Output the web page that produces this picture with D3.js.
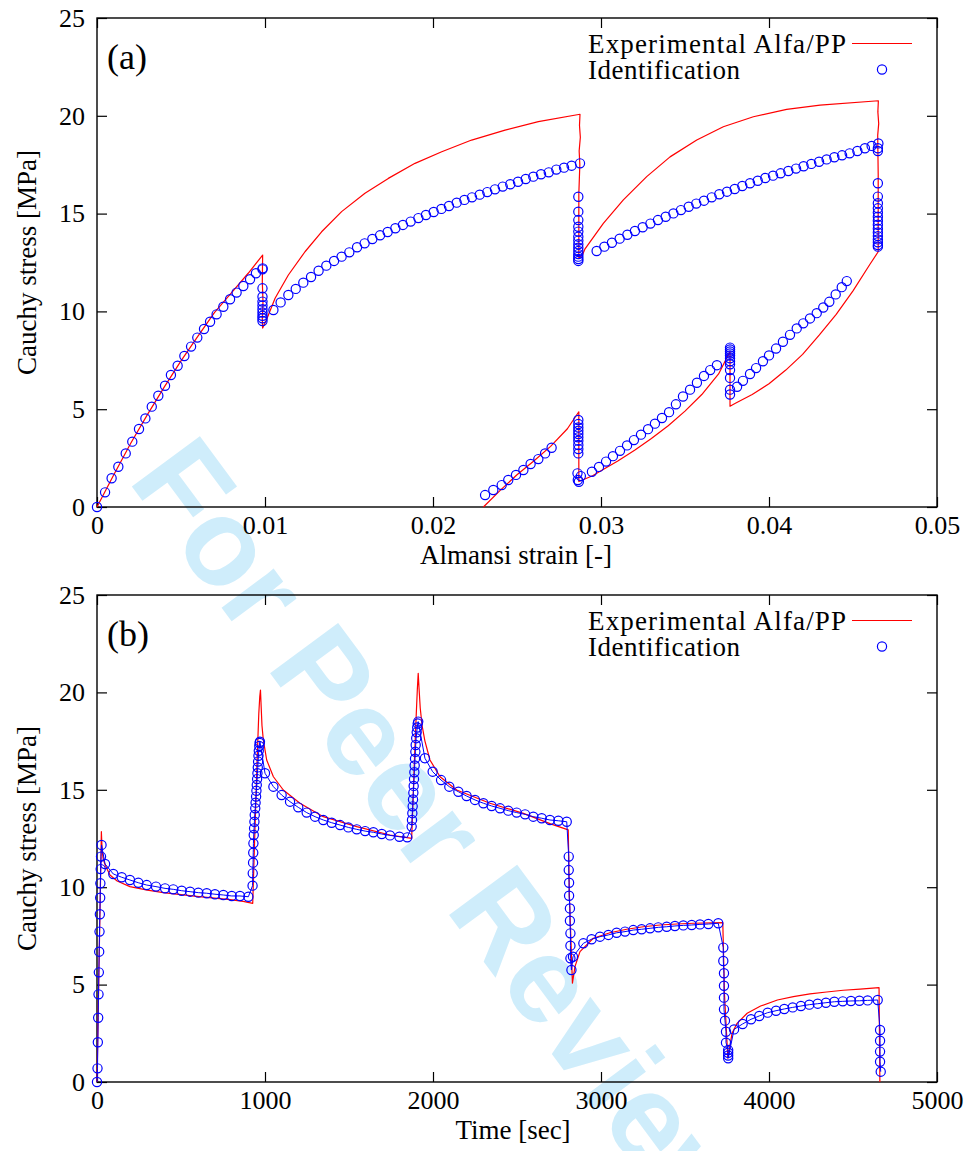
<!DOCTYPE html>
<html>
<head>
<meta charset="utf-8">
<script src="https://cdn.jsdelivr.net/npm/d3@7"></script>
<style>
  body { margin: 0; background: #fff; }
  .serif { font-family: "Liberation Serif", "DejaVu Serif", "Times New Roman", serif; }
</style>
</head>
<body>
<div id="chart"></div>
<script>
// ---- panel (a): stress vs Almansi strain ----
var strainExp = [0, .001, .002, .003, .004, .005, .006, .007, .008, .009, .00986,
  .00984, .00988, .00984, .00986,
  .0101, .0106, .01139, .01238, .01337, .01456, .01595, .01734, .01893, .02052, .0223, .02429, .02627, .02875,
  .02872, .02877, .0287, .02874, .02868, .02868,
  .0289, .02905, .03014, .03133, .03272, .03411, .0357, .03728, .03907, .04105, .04304, .04651,
  .04648, .04653, .04647, .0465, .0465,
  .046, .045, .044, .043, .042, .041, .040, .039, .038, .03768,
  .03768,
  .037, .036, .035, .034, .033, .032, .031, .030, .0295, .02868,
  .02868,
  .028, .027, .026, .025, .024, .023];
var stressExpA = [0, 1.65, 3.25, 4.72, 6.13, 7.47, 8.72, 9.95, 10.95, 11.95, 12.88,
  11.5, 10.5, 9.6, 9.15,
  9.6, 10.67, 11.86, 13.05, 14.07, 15.1, 16.04, 16.8, 17.57, 18.16, 18.76, 19.27, 19.7, 20.08,
  19.5, 18.9, 18.2, 17.5, 16.0, 12.7,
  12.9, 13.2, 14.5, 15.7, 16.89, 17.9, 18.76, 19.44, 19.95, 20.33, 20.55, 20.77,
  20.2, 19.6, 19.0, 17.0, 13.05,
  12.4, 11.05, 9.85, 8.8, 7.8, 7.0, 6.3, 5.75, 5.3, 5.15,
  7.95,
  6.8, 5.75, 4.9, 4.15, 3.5, 2.9, 2.35, 1.85, 1.6, 1.3,
  4.87,
  4.0, 3.1, 2.35, 1.65, 0.85, 0];

var strainIdA = [0, .00048, .00087, .00127, .00171, .0021, .0025, .00288, .00326, .00365, .00405, .0044, .0048,
  .0052, .0056, .00597, .00637, .00673, .00712, .00752, .00792, .00831, .00871, .00911, .00946, .00986,
  .00985, .00985, .00985, .00985, .00985, .00985, .00985, .00985, .00985, .00985,
  .0105, .01093, .01139, .01183, .01228, .01274, .01319, .01365, .01411, .01456, .01502, .01548, .01593, .01639,
  .01685, .0173, .01776, .01821, .01867, .01913, .01958, .02004, .0205, .02095, .02141, .02187, .02232, .02278,
  .02323, .02369, .02415, .0246, .02506, .02552, .02597, .02643, .02689, .02734, .0278, .02825, .02875,
  .02865, .02865, .02865, .02865, .02865, .02865, .02865, .02865, .02865, .02865, .02865, .02865, .02865, .02865,
  .02974, .0302, .03065, .03111, .03157, .03202, .03248, .03294, .03339, .03385, .03431, .03476, .03522, .03567,
  .03613, .03659, .03704, .0375, .03796, .03841, .03887, .03933, .03978, .04024, .04069, .04115, .04161, .04206,
  .04252, .04298, .04343, .04389, .04435, .0448, .04526, .04571, .04611, .04651,
  .04648, .04648, .04648, .04648, .04648, .04648, .04648, .04648, .04648, .04648, .04648, .04648, .04648, .04648,
  .04648, .04648, .04648,
  .04463, .04433, .04397, .04359, .04323, .04284, .04244, .04204, .04165, .04125, .04083, .04042, .04, .03964,
  .03923, .03887, .03845, .0381,
  .03768, .03768, .03768, .03768, .03768, .03768, .03768, .03768, .03768, .03768, .03768, .03768,
  .0369, .0365, .03613, .03571, .0353, .03488, .03446, .03405, .03363, .03321, .0328, .03238, .03196, .03155,
  .03113, .03071, .0303, .02988, .02946,
  .02868, .02862, .0288, .0286, .02865, .02865, .02865, .02865, .02865, .02865, .02865, .02865, .02865, .02865,
  .02706, .02667, .02627, .02581, .02538, .02494, .02448, .02409, .02359, .0231];
var stressIdA = [0, .75, 1.47, 2.06, 2.74, 3.34, 3.99, 4.53, 5.13, 5.69, 6.2, 6.75, 7.22,
  7.72, 8.2, 8.66, 9.1, 9.47, 9.85, 10.24, 10.62, 10.96, 11.3, 11.64, 11.95, 12.2,
  12.15, 11.18, 10.75, 10.5, 10.3, 10.11, 9.94, 9.78, 9.65, 9.51,
  10.07, 10.46, 10.84, 11.15, 11.47, 11.76, 12.08, 12.34, 12.58, 12.8, 13.02, 13.28, 13.48, 13.7,
  13.89, 14.06, 14.25, 14.42, 14.59, 14.77, 14.93, 15.08, 15.24, 15.39, 15.56, 15.7, 15.83, 15.97,
  16.1, 16.24, 16.38, 16.5, 16.63, 16.77, 16.89, 17.01, 17.11, 17.25, 17.35, 17.45, 17.57,
  15.86, 15.1, 14.67, 14.33, 14.08, 13.82, 13.62, 13.43, 13.26, 13.09, 12.93, 12.8, 12.68, 12.58,
  13.09, 13.31, 13.51, 13.72, 13.92, 14.11, 14.3, 14.49, 14.67, 14.84, 15.01, 15.18, 15.35, 15.51,
  15.66, 15.83, 15.99, 16.12, 16.26, 16.41, 16.55, 16.68, 16.82, 16.94, 17.06, 17.18, 17.3, 17.42,
  17.54, 17.65, 17.77, 17.88, 17.98, 18.08, 18.2, 18.34, 18.46, 18.59,
  18.34, 18.2, 16.55, 15.87, 15.53, 15.27, 15.05, 14.84, 14.64, 14.43, 14.23, 14.04, 13.85, 13.68,
  13.53, 13.39, 13.31,
  11.55, 11.24, 10.87, 10.49, 10.2, 9.91, 9.64, 9.39, 9.13, 8.8, 8.45, 8.1, 7.75, 7.45,
  7.1, 6.8, 6.45, 6.15,
  5.75, 6.0, 6.6, 7.0, 7.3, 7.45, 7.6, 7.75, 7.85, 7.95, 8.05, 8.15,
  7.25, 7.0, 6.7, 6.35, 6.0, 5.65, 5.25, 4.85, 4.55, 4.26, 3.98, 3.7, 3.42, 3.15,
  2.87, 2.6, 2.32, 2.05, 1.8,
  1.29, 1.38, 1.58, 1.72, 2.74, 2.96, 3.17, 3.39, 3.56, 3.73, 3.9, 4.07, 4.24, 4.45,
  3.03, 2.74, 2.45, 2.2, 1.89, 1.64, 1.38, 1.12, .87, .61];

// ---- panel (b): stress vs time ----
var timeExp = [0, 26, 30, 36, 48, 77, 120, 196, 300, 395, 500, 593, 700, 792, 870, 927,
  935, 945, 955, 963, 969, 973, 977, 982, 990, 1010, 1050, 1109, 1208, 1347, 1546, 1744, 1873,
  1880, 1890, 1900, 1907, 1912, 1917, 1924, 1935, 1952, 1982, 2042, 2141, 2339, 2538, 2700, 2805,
  2812, 2830, 2845, 2875, 2954, 3053, 3153, 3252, 3351, 3450, 3550, 3725,
  3735, 3755, 3780, 3810, 3870, 3950, 4050, 4145, 4244, 4343, 4442, 4542, 4655, 4660];
var stressExpB = [0, 12.85, 12.0, 11.5, 11.15, 10.63, 10.32, 10.03, 9.85, 9.72, 9.62, 9.53, 9.44, 9.36, 9.27, 9.17,
  11.5, 14.3, 17.0, 18.9, 19.8, 20.12, 19.3, 18.3, 17.56, 16.53, 15.67, 14.99, 14.31, 13.62, 13.11, 12.68, 12.51,
  14.2, 16.6, 18.8, 20.2, 20.98, 20.2, 19.2, 18.3, 17.5, 16.53, 15.67, 14.99, 14.31, 13.79, 13.25, 12.94,
  9.5, 5.07, 5.92, 6.69, 7.38, 7.66, 7.84, 7.97, 8.06, 8.11, 8.15, 8.18,
  4.5, 1.22, 2.5, 3.01, 3.53, 3.9, 4.21, 4.38, 4.52, 4.62, 4.71, 4.77, 4.84, 0];

var timeId = [0, 3, 5, 7, 9, 11, 13, 15, 17, 19, 20, 22, 24, 27,
  48, 97, 147, 196, 246, 296, 351, 405, 454, 504, 554, 603, 653, 702, 752, 802, 851, 901,
  926, 927, 929, 930, 931, 933, 935, 937, 939, 942, 944, 947, 949, 951, 953, 955, 957, 959, 961, 963, 966, 968, 970,
  1000, 1050, 1099, 1149, 1198, 1248, 1298, 1347, 1397, 1447, 1496, 1546, 1596, 1645, 1695, 1744, 1800, 1847,
  1873, 1875, 1877, 1879, 1881, 1883, 1885, 1887, 1889, 1891, 1893, 1895, 1897, 1900, 1903, 1906, 1909, 1912,
  1952, 1998, 2048, 2097, 2151, 2200, 2250, 2300, 2349, 2399, 2448, 2498, 2548, 2597, 2647, 2696, 2746, 2796,
  2808, 2808, 2810, 2810, 2815, 2815, 2818, 2818, 2818, 2824, 2833,
  2895, 2944, 2994, 3044, 3093, 3143, 3192, 3242, 3292, 3341, 3391, 3440, 3490, 3540, 3589, 3639, 3698,
  3728, 3728, 3732, 3732, 3732, 3732, 3738, 3744, 3744, 3757, 3757, 3757, 3757,
  3792, 3843, 3893, 3942, 3992, 4042, 4091, 4141, 4190, 4240, 4290, 4339, 4389, 4439, 4488, 4538, 4587, 4647,
  4661, 4661, 4661, 4661, 4665];
var stressIdB = [0, 0.7, 2.04, 3.3, 4.5, 5.63, 6.69, 7.72, 8.61, 9.46, 10.2, 10.93, 11.57, 12.17,
  11.19, 10.68, 10.51, 10.37, 10.23, 10.11, 10.03, 9.94, 9.89, 9.82, 9.77, 9.72, 9.69, 9.64, 9.6, 9.55, 9.55, 9.51,
  10.08, 10.71, 11.26, 11.77, 12.25, 12.68, 13.02, 13.36, 13.71, 14.05, 14.34, 14.65, 14.95, 15.25, 15.55, 15.85,
  16.15, 16.45, 16.75, 17.0, 17.25, 17.4, 17.47,
  15.85, 15.16, 14.73, 14.39, 14.1, 13.83, 13.62, 13.45, 13.31, 13.19, 13.07, 12.97, 12.88, 12.82, 12.73, 12.66, 12.59, 12.56,
  13.11, 13.45, 13.8, 14.15, 14.5, 14.85, 15.2, 15.55, 15.9, 16.25, 16.6, 16.95, 17.3, 17.65, 17.95, 18.2, 18.4, 18.5,
  16.62, 15.93, 15.5, 15.16, 14.9, 14.68, 14.48, 14.31, 14.17, 14.05, 13.93, 13.83, 13.74, 13.62, 13.54, 13.45, 13.41, 13.36,
  11.57, 10.88, 10.23, 9.56, 8.91, 8.28, 7.63, 7.0, 6.35, 5.75, 6.43,
  7.12, 7.33, 7.46, 7.55, 7.66, 7.72, 7.8, 7.84, 7.89, 7.94, 7.97, 8.01, 8.04, 8.06, 8.09, 8.11, 8.15,
  6.9, 6.21, 5.58, 4.94, 4.33, 3.73, 3.15, 2.58, 2.02, 1.64, 1.5, 1.36, 1.22,
  2.7, 2.98, 3.22, 3.39, 3.56, 3.66, 3.75, 3.83, 3.9, 3.97, 4.02, 4.07, 4.12, 4.14, 4.16, 4.17, 4.19, 4.21,
  2.67, 2.12, 1.56, 1.04, 0.53];

// tick values and labels
var strainTicks = [0, 0.01, 0.02, 0.03, 0.04, 0.05];
var strainTickLabels = ["0", "0.01", "0.02", "0.03", "0.04", "0.05"];
var timeTicks = [0, 1000, 2000, 3000, 4000, 5000];
var timeTickLabels = ["0", "1000", "2000", "3000", "4000", "5000"];
var stressTicks = [0, 5, 10, 15, 20, 25];
var stressTickLabels = ["0", "5", "10", "15", "20", "25"];
var legendLabels = ["Experimental Alfa/PP", "Identification"];

var svgWidth = 971;
var svgHeight = 1151;

var svg = d3.select("#chart")
  .append("svg")
  .attr("width", svgWidth)
  .attr("height", svgHeight)
  .style("display", "block");

svg.append("rect")
  .attr("width", svgWidth)
  .attr("height", svgHeight)
  .attr("fill", "#fff");

// watermark goes underneath everything
svg.append("text")
  .attr("transform", "translate(127,480) rotate(53.5)")
  .style("font-family", "'Liberation Sans', Arial, sans-serif")
  .attr("font-weight", "bold")
  .attr("font-size", 123)
  .attr("fill", "#cfedfb")
  .text("For Peer Review");

function drawPanel(p) {
  var g = svg.append("g").attr("class", "serif");
  var top = p.y.range()[1];
  var bottom = p.y.range()[0];
  var left = p.x.range()[0];
  var right = p.x.range()[1];

  // bottom + left axes with labels, ticks pointing in
  var xAxis = g.append("g")
    .attr("transform", `translate(0, ${bottom})`)
    .call(d3.axisBottom(p.x).tickValues(p.xTicks)
      .tickFormat((d, i) => p.xLabels[i])
      .tickSizeInner(-10).tickSizeOuter(0).tickPadding(9));
  var yAxis = g.append("g")
    .attr("transform", `translate(${left}, 0)`)
    .call(d3.axisLeft(p.y).tickValues(stressTicks)
      .tickFormat((d, i) => stressTickLabels[i])
      .tickSizeInner(-10).tickSizeOuter(0).tickPadding(12));
  // mirror ticks on top and right
  var xTop = g.append("g")
    .attr("transform", `translate(0, ${top})`)
    .call(d3.axisTop(p.x).tickValues(p.xTicks).tickFormat("")
      .tickSizeInner(-10).tickSizeOuter(0));
  var yRight = g.append("g")
    .attr("transform", `translate(${right}, 0)`)
    .call(d3.axisRight(p.y).tickValues(stressTicks).tickFormat("")
      .tickSizeInner(-10).tickSizeOuter(0));

  [xAxis, yAxis, xTop, yRight].forEach(function(a) {
    a.select(".domain").remove();
    a.attr("font-family", null).attr("font-size", 26);
    a.selectAll("line").attr("stroke", "#000").attr("stroke-width", 1.2);
    a.selectAll("text").attr("fill", "#000");
  });

  // border box
  g.append("rect")
    .attr("x", left)
    .attr("y", top)
    .attr("width", right - left)
    .attr("height", bottom - top)
    .attr("fill", "none")
    .attr("stroke", "#000")
    .attr("stroke-width", 1.4);

  // experimental curve
  var line = d3.line()
    .x(d => p.x(d[0]))
    .y(d => p.y(d[1]));
  g.append("path")
    .datum(d3.zip(p.expX, p.expY))
    .attr("d", line)
    .attr("fill", "none")
    .attr("stroke", "#ff0000")
    .attr("stroke-width", 1.2)
    .attr("stroke-linejoin", "round");

  var idData = d3.zip(p.idX, p.idY);
  if (p.idLine) {
    g.append("path")
      .datum(idData)
      .attr("d", line)
      .attr("fill", "none")
      .attr("stroke", "#0000ff")
      .attr("stroke-width", 1);
  }
  g.selectAll("circle.id")
    .data(idData)
    .enter()
    .append("circle")
    .attr("class", "id")
    .attr("cx", d => p.x(d[0]))
    .attr("cy", d => p.y(d[1]))
    .attr("r", 4.6)
    .attr("fill", "none")
    .attr("stroke", "#0000ff")
    .attr("stroke-width", 1.2);

  // legend (key)
  var key = g.append("g").attr("font-size", 27);
  key.append("text").attr("x", 588).attr("y", top + 35)
    .attr("textLength", 258).attr("lengthAdjust", "spacing")
    .text(legendLabels[0]);
  key.append("text").attr("x", 588).attr("y", top + 61)
    .attr("textLength", 152).attr("lengthAdjust", "spacing")
    .text(legendLabels[1]);
  key.append("line")
    .attr("x1", 852).attr("x2", 912)
    .attr("y1", top + 25.5).attr("y2", top + 25.5)
    .attr("stroke", "#ff0000").attr("stroke-width", 1.2);
  key.append("circle")
    .attr("cx", 882).attr("cy", top + 51.5).attr("r", 4.6)
    .attr("fill", "none").attr("stroke", "#0000ff").attr("stroke-width", 1.2);

  // panel tag
  g.append("text")
    .attr("x", 107)
    .attr("y", top + 51)
    .attr("font-size", 36)
    .text(p.tag);

  // axis titles
  g.append("text")
    .attr("transform", `translate(36, ${(top + bottom) / 2}) rotate(-90)`)
    .attr("text-anchor", "middle")
    .attr("font-size", 27)
    .text("Cauchy stress [MPa]");
  g.append("text")
    .attr("x", p.xTitleX)
    .attr("y", bottom + 57)
    .attr("text-anchor", "middle")
    .attr("font-size", 27)
    .text(p.xTitle);
}

drawPanel({
  tag: "(a)",
  x: d3.scaleLinear().domain([0, 0.05]).range([97, 937]),
  y: d3.scaleLinear().domain([0, 25]).range([507, 18]),
  xTicks: strainTicks,
  xLabels: strainTickLabels,
  expX: strainExp, expY: stressExpA,
  idX: strainIdA, idY: stressIdA,
  idLine: false,
  xTitle: "Almansi strain [-]",
  xTitleX: 516
});

drawPanel({
  tag: "(b)",
  x: d3.scaleLinear().domain([0, 5000]).range([97, 937]),
  y: d3.scaleLinear().domain([0, 25]).range([1082, 595]),
  xTicks: timeTicks,
  xLabels: timeTickLabels,
  expX: timeExp, expY: stressExpB,
  idX: timeId, idY: stressIdB,
  idLine: true,
  xTitle: "Time [sec]",
  xTitleX: 513
});
</script>
</body>
</html>
